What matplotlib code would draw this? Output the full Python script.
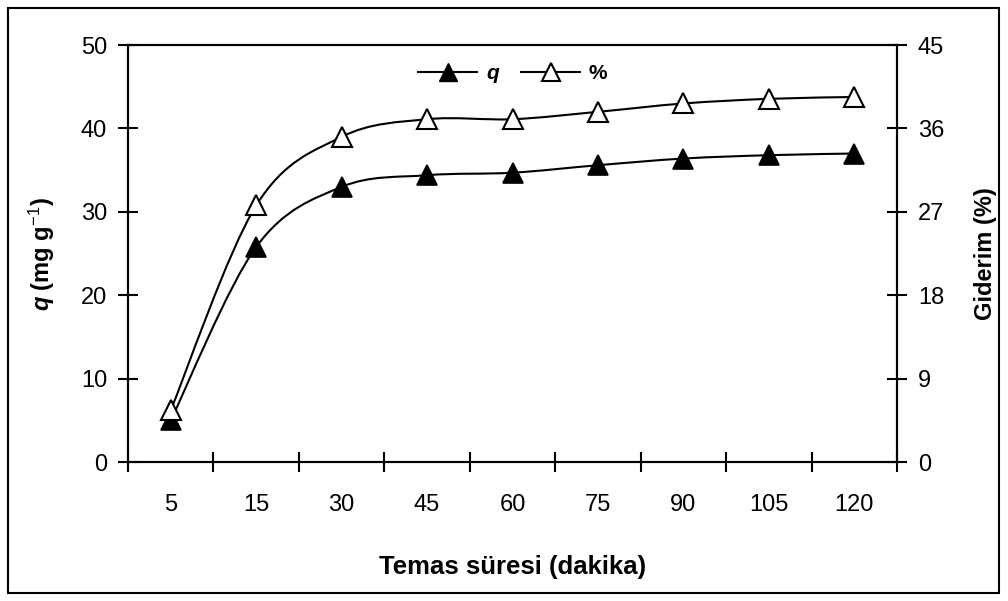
import numpy as np
import matplotlib.pyplot as plt
from matplotlib.path import Path
from matplotlib.patches import PathPatch, Rectangle
from matplotlib.lines import Line2D

plt.rcParams['font.family'] = ['Liberation Sans', 'DejaVu Sans']
plt.rcParams['mathtext.fontset'] = 'custom'
plt.rcParams['mathtext.rm'] = 'Liberation Sans'
plt.rcParams['mathtext.it'] = 'Liberation Sans:italic'
plt.rcParams['mathtext.bf'] = 'Liberation Sans:bold'
plt.rcParams['mathtext.bfit'] = 'Liberation Sans:bold:italic'

# contact time (min) and values
times = ['5', '15', '30', '45', '60', '75', '90', '105', '120']
q_vals = [5.0, 25.8, 33.0, 34.4, 34.7, 35.6, 36.4, 36.8, 37.0]
pct_vals = [5.6, 27.7, 35.1, 37.0, 37.0, 37.8, 38.7, 39.2, 39.4]


def smooth_path(x, y):
    # Excel-style smoothed line: cubic Bezier, control points from neighbours
    x = np.asarray(x, float)
    y = np.asarray(y, float)
    n = len(x)
    verts = [(x[0], y[0])]
    codes = [Path.MOVETO]
    for i in range(n - 1):
        p0 = np.array([x[max(i - 1, 0)], y[max(i - 1, 0)]])
        p1 = np.array([x[i], y[i]])
        p2 = np.array([x[i + 1], y[i + 1]])
        p3 = np.array([x[min(i + 2, n - 1)], y[min(i + 2, n - 1)]])
        c1 = p1 + (p2 - p0) / 6
        c2 = p2 - (p3 - p1) / 6
        verts += [tuple(c1), tuple(c2), tuple(p2)]
        codes += [Path.CURVE4] * 3
    return Path(verts, codes)


fig = plt.figure(figsize=(10.08, 6.01), dpi=100)
ax = fig.add_axes([0.127, 0.231, 0.763, 0.694])
ax2 = ax.twinx()

xs = np.arange(len(times))

ax.add_patch(PathPatch(smooth_path(xs, q_vals), fill=False, lw=1.5, color='black'))
ax.plot(xs, q_vals, ls='none', marker='^', ms=14, mfc='black', mec='black', mew=1.2)

ax2.add_patch(PathPatch(smooth_path(xs, pct_vals), fill=False, lw=1.5, color='black'))
ax2.plot(xs, pct_vals, ls='none', marker='^', ms=14, mfc='white', mec='black', mew=1.5)

ax.set_xlim(-0.5, len(times) - 0.5)
ax.set_ylim(0, 50)
ax2.set_ylim(0, 45)
ax.set_yticks(np.arange(0, 51, 10))
ax2.set_yticks(np.arange(0, 46, 9))

ax.set_xticks(np.arange(-0.5, len(times)), labels=[])
ax.set_xticks(xs, labels=times, minor=True)
ax.tick_params(axis='x', which='major', direction='inout', length=14, width=1.5)
ax.tick_params(axis='x', which='minor', length=0, pad=23, labelsize=17)
ax.tick_params(axis='y', direction='inout', length=14, width=1.5, labelsize=17, pad=8)
ax2.tick_params(axis='y', direction='inout', length=14, width=1.5, labelsize=17, pad=8)

for a in (ax, ax2):
    for s in a.spines.values():
        s.set_linewidth(1.5)

ax.set_xlabel('Temas süresi (dakika)', fontsize=18.5, fontweight='bold')
ax.xaxis.set_label_coords(0.5, -0.223)
ax.set_ylabel(r'$\mathbfit{q}$ (mg g$^{-1}$)', fontsize=17, fontweight='bold')
ax.yaxis.set_label_coords(-0.092, 0.5)
ax2.set_ylabel('Giderim (%)', fontsize=17, fontweight='bold', rotation=90)
ax2.yaxis.set_label_coords(1.100, 0.5)

handles = [
    Line2D([], [], color='black', lw=1.5, marker='^', ms=13, mfc='black', mec='black'),
    Line2D([], [], color='black', lw=1.5, marker='^', ms=13, mfc='white', mec='black', mew=1.5),
]
ax2.legend(handles, [r'$\mathbfit{q}$', '%'], loc='upper center', bbox_to_anchor=(0.5, 1.0),
           ncol=2, frameon=False, handlelength=2.85, columnspacing=1.0, handletextpad=0.4,
           prop={'weight': 'bold', 'size': 15})

fig.patches.append(Rectangle((0.008, 0.013), 0.983, 0.974, transform=fig.transFigure,
                             fill=False, lw=1.5, ec='black'))

fig.savefig('out.png', dpi=100)
